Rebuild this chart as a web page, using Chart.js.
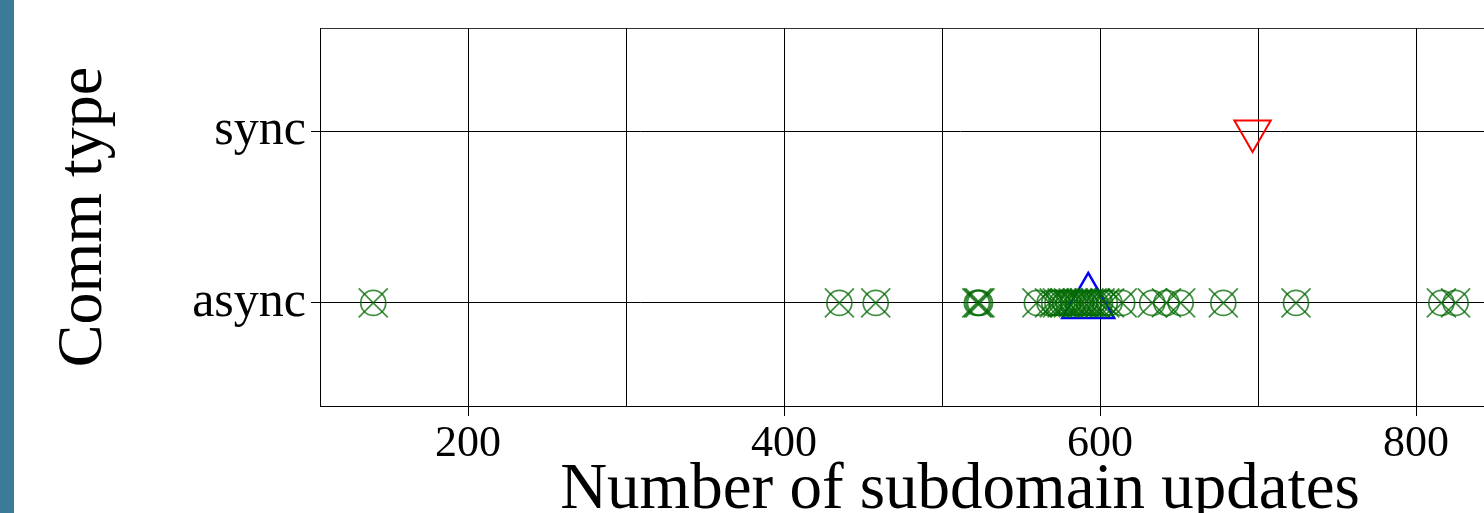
<!DOCTYPE html>
<html>
<head>
<meta charset="utf-8">
<script src="https://cdn.jsdelivr.net/npm/chart.js@4/dist/chart.umd.min.js"></script>
<style>
  html, body { margin: 0; padding: 0; background: #fff; overflow: hidden; }
  #wrap { position: relative; width: 1484px; height: 513px; overflow: hidden; }
  #strip { position: absolute; left: 0; top: 0; width: 14px; height: 513px; background: #3b7b97; z-index: 2; }
  canvas { position: absolute; left: 0; top: 0; }
</style>
</head>
<body>
<div id="wrap">
  <div id="strip"></div>
  <canvas id="c" width="1620" height="513"></canvas>
</div>
<script>
// Communication types on the vertical axis (index = y position)
const commTypes = ['async', 'sync'];

// Subdomain update counts recorded for asynchronous runs
const asyncUpdates = [140, 435, 458, 522, 523, 524, 560, 568, 571, 573, 576, 578, 580,
  583, 586, 588, 590, 593, 595, 597, 600, 603, 606, 614, 633, 642, 651, 678, 724, 816, 825];

// Reference markers: async summary (blue) and sync run (red)
const asyncSummary = [592.5];
const syncUpdates = [696.5];

// Labelled ticks along the x axis (grid lines every 100)
const xMajorTicks = [200, 400, 600, 800];

const serif = '"Liberation Serif", "DejaVu Serif", serif';

const toPoints = (vals, yIdx) => vals.map(v => ({ x: v, y: yIdx }));
const greenLine = 'rgba(0,105,0,0.75)';

const frame = {
  id: 'frame',
  afterDraw(chart) {
    const { ctx, chartArea: a } = chart;
    ctx.save();
    ctx.strokeStyle = 'rgba(0,0,0,0.8)';
    ctx.lineWidth = 1;
    ctx.strokeRect(Math.round(a.left) + 0.5, Math.round(a.top) + 0.5,
      Math.round(a.right - a.left), Math.round(a.bottom - a.top));
    ctx.restore();
  }
};

function noEdgePadding(scale) {
  scale.paddingTop = 0;
  scale.paddingBottom = 0;
  scale.paddingLeft = 0;
  scale.paddingRight = 0;
}

new Chart(document.getElementById('c'), {
  type: 'scatter',
  data: {
    datasets: [
      {
        label: 'async (circle)',
        data: toPoints(asyncUpdates, 0),
        pointStyle: 'circle',
        pointRadius: 12.5,
        borderColor: greenLine,
        backgroundColor: 'rgba(0,0,0,0)',
        borderWidth: 1.7
      },
      {
        label: 'async (cross)',
        data: toPoints(asyncUpdates, 0),
        pointStyle: 'crossRot',
        pointRadius: 20.5,
        borderColor: greenLine,
        backgroundColor: 'rgba(0,0,0,0)',
        borderWidth: 1.7
      },
      {
        label: 'async summary',
        data: toPoints(asyncSummary, 0),
        pointStyle: 'triangle',
        pointRadius: 30,
        borderColor: '#0000ff',
        backgroundColor: 'rgba(0,0,0,0)',
        borderWidth: 2.5
      },
      {
        label: 'sync',
        data: toPoints(syncUpdates, 1),
        pointStyle: 'triangle',
        rotation: 180,
        pointRadius: 21,
        borderColor: '#ff0000',
        backgroundColor: 'rgba(0,0,0,0)',
        borderWidth: 2
      }
    ]
  },
  options: {
    responsive: false,
    animation: false,
    events: [],
    layout: { autoPadding: false, padding: { left: 0, right: 20, top: 28, bottom: 0 } },
    plugins: { legend: { display: false }, tooltip: { enabled: false } },
    scales: {
      x: {
        type: 'linear',
        min: 106.3,
        max: 916.4,
        afterFit(scale) { scale.height = 107; noEdgePadding(scale); },
        ticks: {
          stepSize: 100,
          includeBounds: false,
          autoSkip: false,
          maxRotation: 0,
          padding: 2,
          color: '#000',
          font: { family: serif, size: 44 },
          callback: v => (xMajorTicks.includes(v) ? String(v) : '')
        },
        grid: {
          color: '#000',
          lineWidth: 1,
          tickLength: 10,
          tickColor: ctx => (ctx.tick && xMajorTicks.includes(ctx.tick.value) ? '#000' : 'rgba(0,0,0,0)')
        },
        border: { display: true, color: '#000', width: 1 },
        title: {
          display: true,
          text: 'Number of subdomain updates',
          color: '#000',
          font: { family: serif, size: 65, lineHeight: 0.68 },
          padding: { top: 0, bottom: 0 }
        }
      },
      y: {
        type: 'linear',
        min: -0.6,
        max: 1.6,
        afterFit(scale) { scale.width = 320; noEdgePadding(scale); },
        afterBuildTicks(scale) { scale.ticks = commTypes.map((_, i) => ({ value: i })); },
        ticks: {
          autoSkip: false,
          padding: 5,
          color: '#000',
          font: { family: serif, size: 50 },
          callback: v => commTypes[v]
        },
        grid: { color: '#000', lineWidth: 1, tickLength: 9, tickColor: '#000' },
        border: { display: true, color: '#000', width: 1 },
        title: {
          display: true,
          text: 'Comm type',
          color: '#000',
          font: { family: serif, size: 64, lineHeight: 1 },
          padding: { top: 52, bottom: 0 }
        }
      }
    }
  },
  plugins: [frame]
});
</script>
</body>
</html>
